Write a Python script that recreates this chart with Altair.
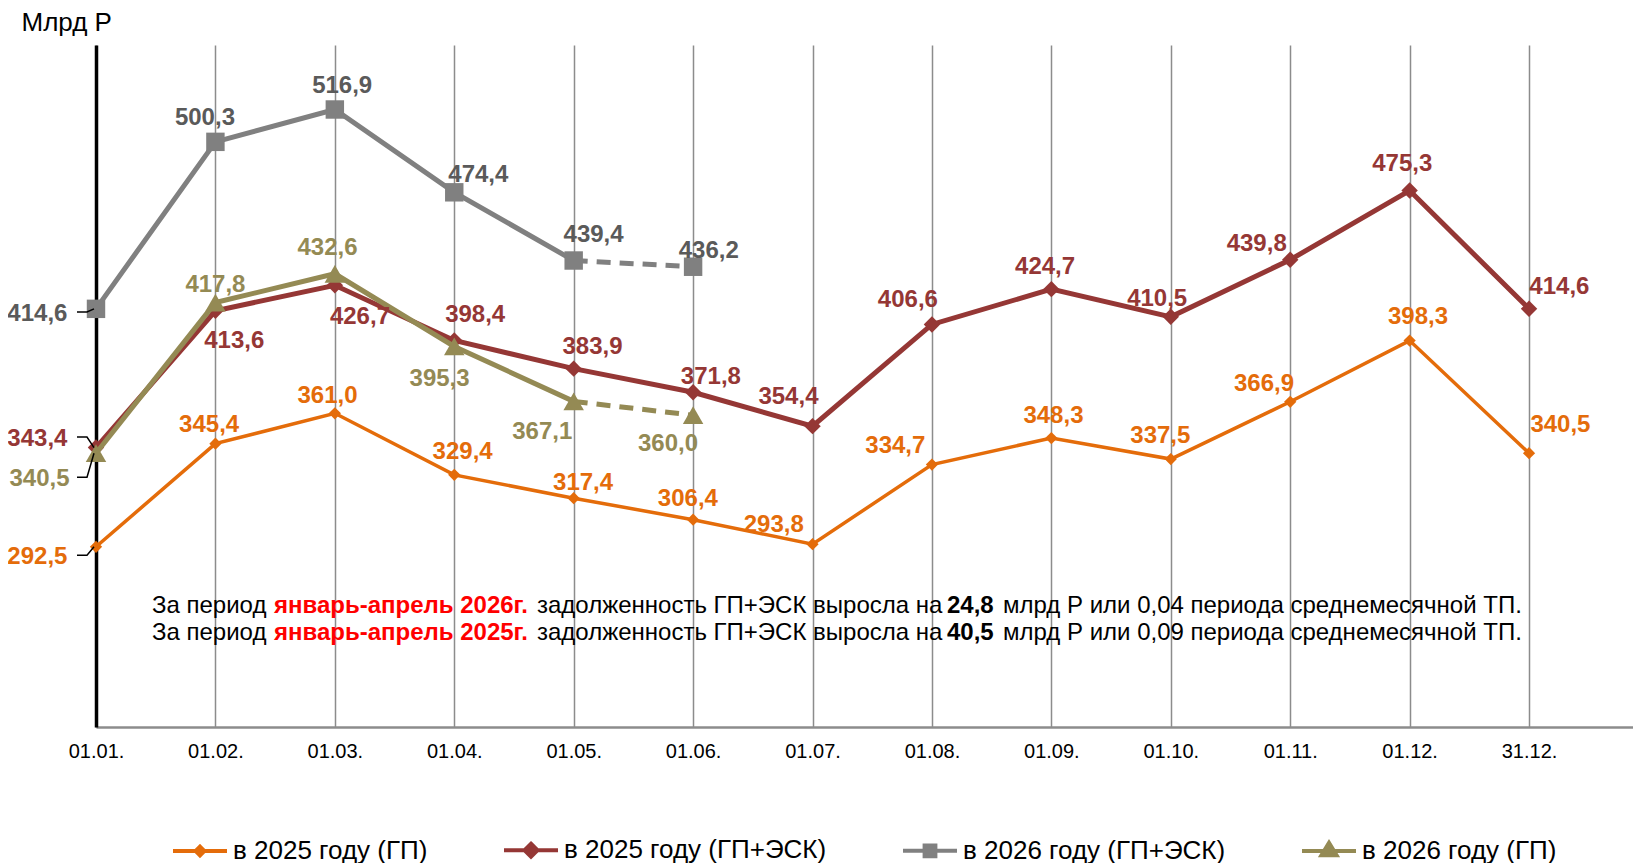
import json
import altair as alt
import pandas as pd

# ---------------- data ----------------
x_labels = ["01.01.", "01.02.", "01.03.", "01.04.", "01.05.", "01.06.", "01.07.",
            "01.08.", "01.09.", "01.10.", "01.11.", "01.12.", "31.12."]
gp_2025 = [292.5, 345.4, 361.0, 329.4, 317.4, 306.4, 293.8, 334.7, 348.3, 337.5, 366.9, 398.3, 340.5]
gpesk_2025 = [343.4, 413.6, 426.7, 398.4, 383.9, 371.8, 354.4, 406.6, 424.7, 410.5, 439.8, 475.3, 414.6]
gpesk_2026 = [414.6, 500.3, 516.9, 474.4, 439.4, 436.2]
gp_2026 = [340.5, 417.8, 432.6, 395.3, 367.1, 360.0]

series_names = ["в 2025 году (ГП)", "в 2025 году (ГП+ЭСК)", "в 2026 году (ГП+ЭСК)", "в 2026 году (ГП)"]
series_values = [gp_2025, gpesk_2025, gpesk_2026, gp_2026]
series_colors = ["#E46C0A", "#953735", "#808080", "#948A54"]
label_colors = ["#E46C0A", "#953735", "#5A5A5A", "#948A54"]
solid_last = [12, 12, 4, 4]   # index of last point drawn with a solid line

note_lines = [
    ["За период", "январь-апрель 2026г.", "задолженность ГП+ЭСК выросла на", "24,8",
     "млрд Р или 0,04 периода среднемесячной ТП."],
    ["За период", "январь-апрель 2025г.", "задолженность ГП+ЭСК выросла на", "40,5",
     "млрд Р или 0,09 периода среднемесячной ТП."],
]

# ---------------- layout / style ----------------
FONT = "Liberation Sans"
PX_IDX = 119.42
W, H = 1537, 682
X_MAX = W / PX_IDX
Y_MIN, Y_MAX = 200, 550
PX_VAL = H / (Y_MAX - Y_MIN)
K = 1.0466

# label offsets from their point, in pixels (measured on the reference)
label_offsets = [
    [(-56, 8), (-6, -20), (-7, -18), (8, -24), (9, -16), (-5, -22), (-37, -20), (-35, -20),
     (2, -23), (-10, -24), (-25, -19), (8, -24), (30, -29)],
    [(-56, -10), (18, 27), (24, 28), (20, -26), (18, -23), (17, -16), (-23, -30), (-23, -25),
     (-6, -23), (-13, -19), (-32, -17), (-7, -27), (29, -23)],
    [(-56, 3), (-10, -25), (7, -24), (23, -18), (19, -26), (15, -17)],
    [(-54, 23), (0, -19), (-7, -27), (-14, 29), (-30, 27), (-24, 26)],
]
line_widths = [3.5, 5, 5, 5]
marker_shapes = ["diamond", "diamond", "square", "triangle-up"]
marker_sizes = [150, 270, 340, 420]
legend_paths = [
    "M-1,0L1,0M0,-0.16L0.16,0L0,0.16L-0.16,0Z",
    "M-1,0L1,0M0,-0.24L0.24,0L0,0.24L-0.24,0Z",
    "M-1,0L1,0M-0.2,-0.2L0.2,-0.2L0.2,0.2L-0.2,0.2Z",
    "M-1,0L1,0M0,-0.3L0.28,0.16L-0.28,0.16Z",
]
note_x = [56, 178, 441, 851, 907]
note_bold = [False, True, False, True, False]
note_color = ["#000000", "#FF0000", "#000000", "#000000", "#000000"]
note_y = [561, 588]

label_expr = json.dumps(x_labels, ensure_ascii=False) + "[datum.value]"
x_scale = alt.Scale(domain=[0, X_MAX], nice=False, zero=False)
y_scale = alt.Scale(domain=[Y_MIN, Y_MAX], nice=False, zero=False)


def xq(field):
    return alt.X(field, type="quantitative", scale=x_scale, axis=alt.Axis(
        values=list(range(len(x_labels))), labelExpr=label_expr, grid=True, gridColor="#8C8C8C",
        gridWidth=1.5, domainColor="#8C8C8C", domainWidth=2.5, ticks=False, labelFontSize=20,
        labelFont=FONT, labelColor="#000000", labelPadding=14, title=None, labelFlush=False))


def yq(field):
    return alt.Y(field, type="quantitative", scale=y_scale, axis=alt.Axis(
        domainColor="#000000", domainWidth=3.5, labels=False, ticks=False, grid=False,
        title="Млрд Р", titleAngle=0, titleX=-75, titleY=-23, titleAlign="left",
        titleBaseline="middle", titleFontSize=26, titleFontWeight="normal", titleFont=FONT,
        titleColor="#000000"))


layers = []
frames = []
for s, vals in enumerate(series_values):
    n = len(vals)
    df = pd.DataFrame({
        "idx": list(range(n)),
        "value": vals,
        "label": [f"{v:.1f}".replace(".", ",") for v in vals],
    })
    df["lx"] = df["idx"] + [o[0] * K / PX_IDX for o in label_offsets[s]]
    df["ly"] = df["value"] - pd.Series([o[1] * K / PX_VAL for o in label_offsets[s]])
    frames.append(df)
    solid = df[df.idx <= solid_last[s]]
    layers.append(alt.Chart(solid).mark_line(color=series_colors[s], strokeWidth=line_widths[s])
                  .encode(x=xq("idx"), y=yq("value")))
    if solid_last[s] < n - 1:
        dashed = df[df.idx >= solid_last[s]]
        layers.append(alt.Chart(dashed).mark_line(color=series_colors[s], strokeWidth=line_widths[s],
                                                   strokeDash=[14, 9])
                      .encode(x=xq("idx"), y=yq("value")))
    layers.append(alt.Chart(df).mark_point(shape=marker_shapes[s], filled=True, size=marker_sizes[s],
                                           color=series_colors[s], opacity=1)
                  .encode(x=xq("idx"), y=yq("value")))

# leader lines for the labels of the first points (left of the axis)
lead_rows = []
for s, df in enumerate(frames):
    ly = df.loc[0, "ly"]
    v = df.loc[0, "value"]
    for k, (px, yy) in enumerate([(-19, ly), (-9, ly), (-2, v)]):
        lead_rows.append({"g": s, "o": k, "x": px / PX_IDX, "y": yy})
leaders = pd.DataFrame(lead_rows)
layers.append(alt.Chart(leaders).mark_line(color="#000000", strokeWidth=1.5, clip=False).encode(
    x=xq("x"), y=yq("y"), detail="g:N", order="o:Q"))

for s, df in enumerate(frames):
    layers.append(alt.Chart(df).mark_text(font=FONT, fontSize=24, fontWeight="bold", dy=2,
                                          color=label_colors[s], baseline="middle", align="center")
                  .encode(x=xq("lx"), y=yq("ly"), text="label:N"))

# annotation text
rows = []
for li, segs in enumerate(note_lines):
    for si, t in enumerate(segs):
        rows.append({"t": t, "px": note_x[si], "py": note_y[li], "bold": note_bold[si], "col": note_color[si]})
notes = pd.DataFrame(rows)
for bold in (False, True):
    layers.append(alt.Chart(notes[notes.bold == bold]).mark_text(
        font=FONT, fontSize=24, fontWeight="bold" if bold else "normal", align="left", baseline="middle")
        .encode(x=alt.X("px:Q", scale=None, axis=None), y=alt.Y("py:Q", scale=None, axis=None),
                text="t:N", color=alt.Color("col:N", scale=None)))

# legend
leg = alt.Legend(orient="none", legendX=75, legendY=776, direction="horizontal", title=None,
                 symbolSize=2916, symbolStrokeWidth=4, labelFontSize=26, labelFont=FONT,
                 labelColor="#000000", labelOffset=4, columnPadding=68, labelLimit=500)
legend_df = pd.DataFrame({"series": series_names})
layers.append(alt.Chart(legend_df).transform_filter("false").mark_point(filled=True, opacity=1).encode(
    shape=alt.Shape("series:N", scale=alt.Scale(domain=series_names, range=legend_paths), legend=leg),
    fill=alt.Fill("series:N", scale=alt.Scale(domain=series_names, range=series_colors), legend=leg),
    stroke=alt.Stroke("series:N", scale=alt.Scale(domain=series_names, range=series_colors), legend=leg),
))

chart = alt.layer(*layers).properties(
    width=W, height=H,
    background="#FFFFFF",
    autosize=alt.AutoSizeParams(type="none"),
    padding={"left": 88, "top": 37, "right": 0, "bottom": 140},
).configure_view(stroke=None)

chart.save("out.html", embed_options={"renderer": "svg", "actions": False})
